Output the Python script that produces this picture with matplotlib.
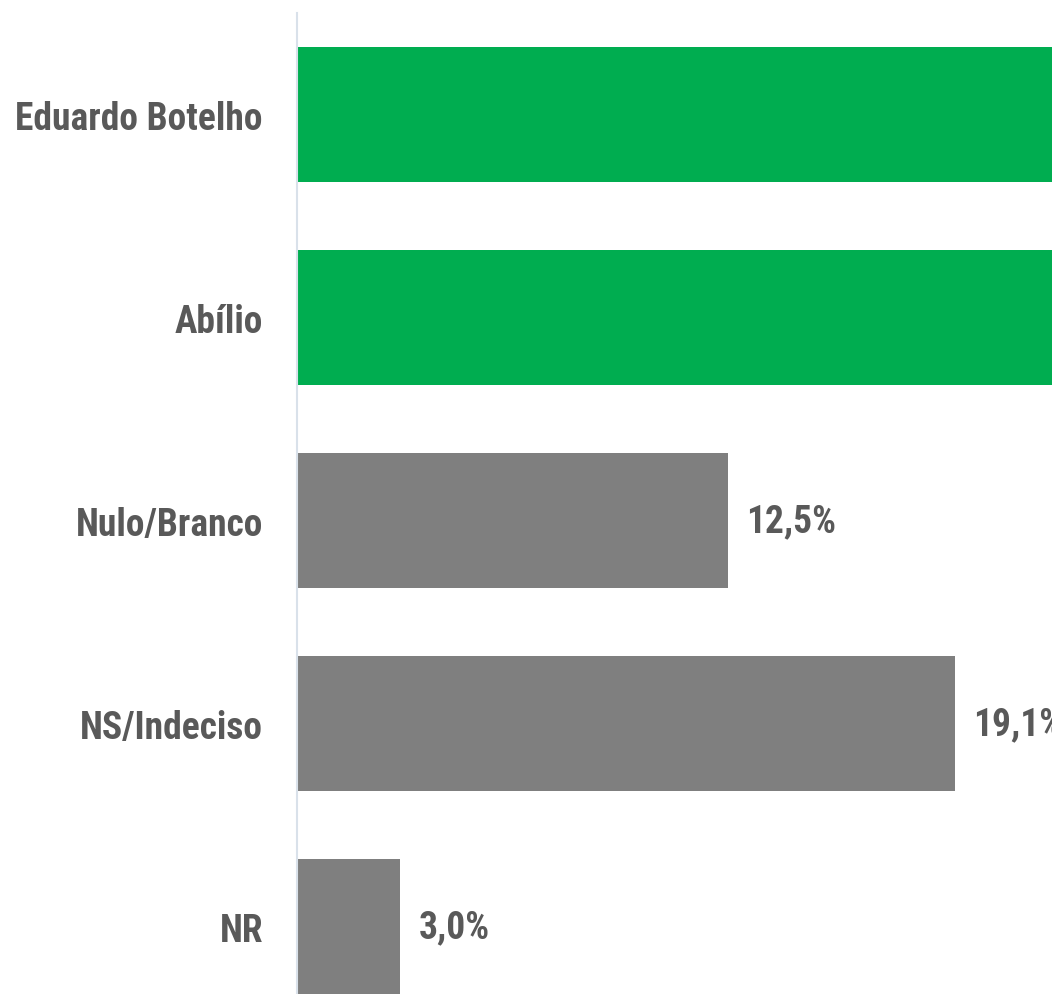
import matplotlib.pyplot as plt
from matplotlib import font_manager

candidatos = ["Eduardo Botelho", "Abílio", "Nulo/Branco", "NS/Indeciso", "NR"]
valores = [34.0, 30.0, 12.5, 19.1, 3.0]   # green bars are cut off in the picture
cores = ["#00ad50", "#00ad50", "#7f7f7f", "#7f7f7f", "#7f7f7f"]
rotulos = ["", "", "12,5%", "19,1%", "3,0%"]

# narrow sans, like the original
names = {f.name for f in font_manager.fontManager.ttflist}
fam = "Roboto"
for c in ["Roboto Condensed", "Archivo Narrow", "PT Sans Narrow", "Liberation Sans Narrow"]:
    if c in names:
        fam = c
        break
plt.rcParams["font.family"] = [fam, "DejaVu Sans"]
fs = 27 if fam != "Roboto" else 24

W, H = 1052, 995
fig = plt.figure(figsize=(W / 100, H / 100), dpi=100)
ax = fig.add_axes([297 / W, 0, 1 - 297 / W, 1 - 14 / H])

pos = list(range(len(candidatos)))
ax.barh(pos, valores, height=0.665, color=cores)

for p, v, r in zip(pos, valores, rotulos):
    if r:
        ax.text(v + 0.52, p, r, va="center", ha="left", fontsize=fs,
                fontweight="bold", color="#595959", clip_on=True)

ax.set_yticks(pos)
ax.set_yticklabels(candidatos, fontsize=fs, fontweight="bold", color="#595959")
ax.tick_params(axis="y", length=0, pad=24.5)
ax.set_xticks([])
ax.set_xlim(0, 21.91)
ax.set_ylim(4.333, -0.5)

for s in ["top", "right", "bottom"]:
    ax.spines[s].set_visible(False)
ax.spines["left"].set_color("#d9e1ea")
ax.spines["left"].set_linewidth(1.5)

fig.savefig("out.png", dpi=100)
